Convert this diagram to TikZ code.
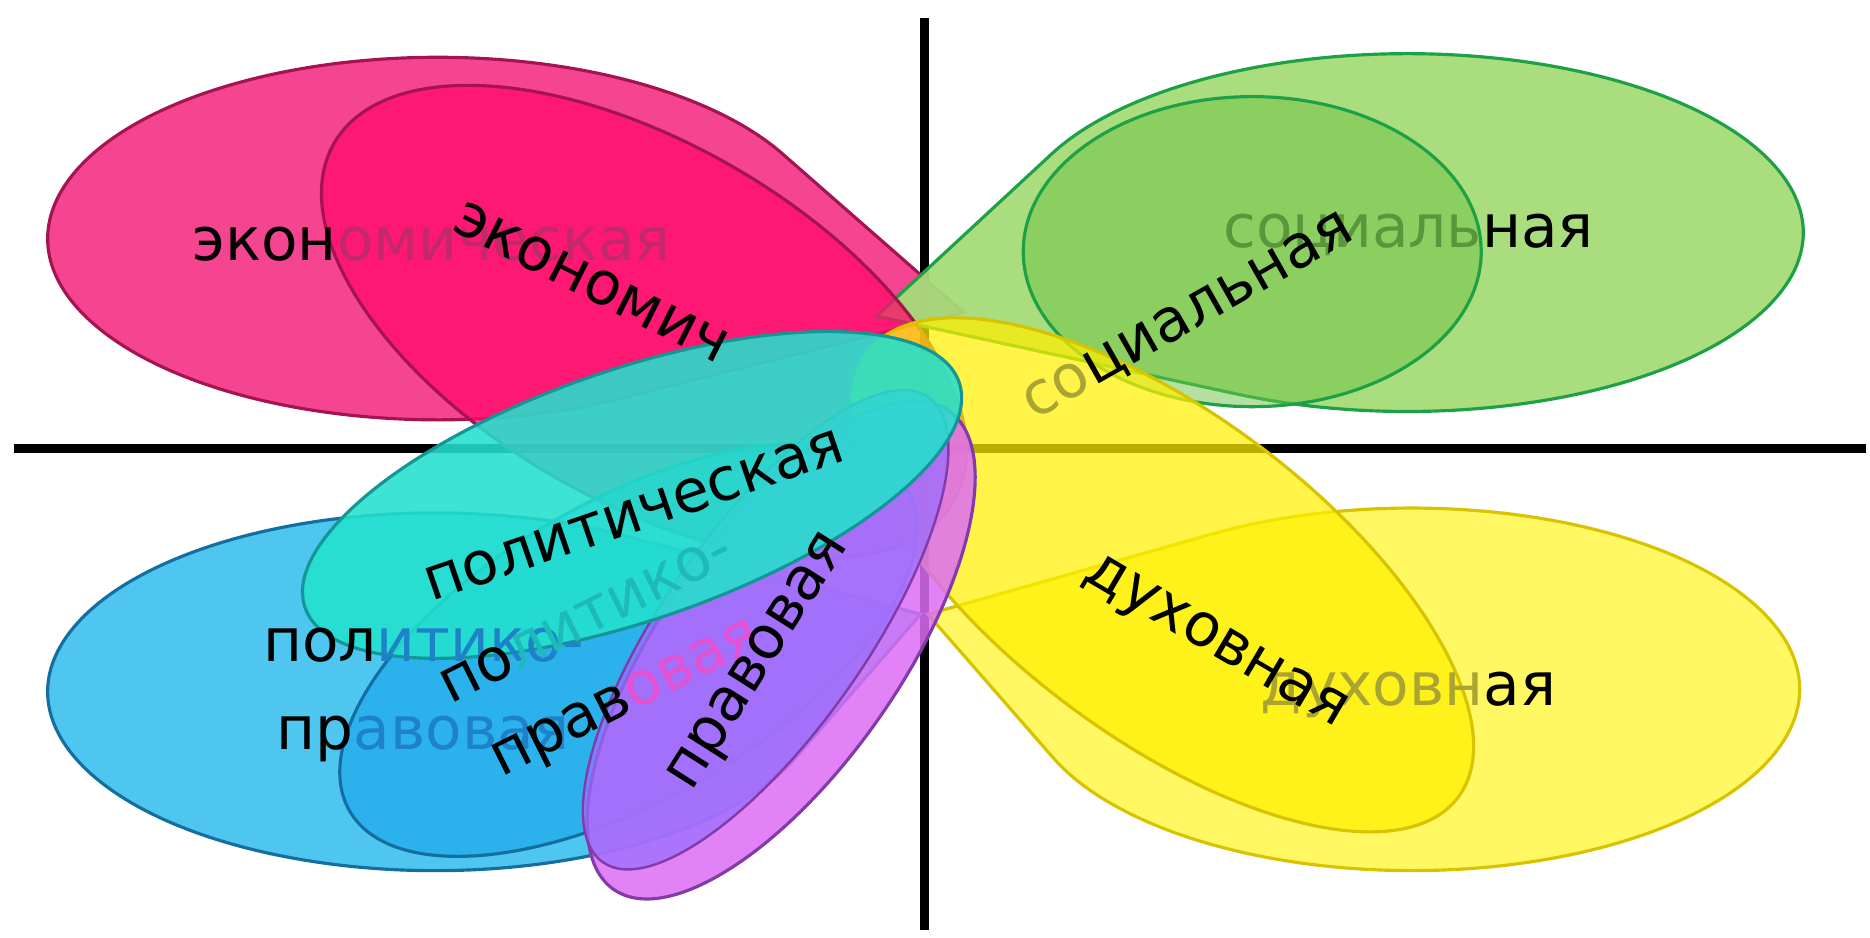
\documentclass[tikz,border=0pt]{standalone}
\usepackage{fontspec}
\setmainfont{DejaVu Sans}
\definecolor{pinkbig}{RGB}{245,60,140}
\definecolor{pinkpet}{RGB}{255,10,105}
\definecolor{pinkline}{RGB}{165,20,80}
\definecolor{greenbig}{RGB}{165,220,120}
\definecolor{greenpet}{RGB}{110,195,70}
\definecolor{greenline}{RGB}{30,160,70}
\definecolor{yellowbig}{RGB}{255,248,90}
\definecolor{yellowpet}{RGB}{255,240,0}
\definecolor{yellowline}{RGB}{215,195,0}
\definecolor{bluebig}{RGB}{70,195,240}
\definecolor{bluepet}{RGB}{20,165,235}
\definecolor{blueline}{RGB}{20,110,160}
\definecolor{cyanpet}{RGB}{35,225,205}
\definecolor{cyanline}{RGB}{20,150,150}
\definecolor{magpet}{RGB}{220,110,245}
\definecolor{violetpet}{RGB}{150,110,255}
\definecolor{purpleline}{RGB}{130,60,170}
\definecolor{fpink}{RGB}{195,40,105}
\definecolor{fgreen}{RGB}{90,150,60}
\definecolor{fyellow}{RGB}{170,165,50}
\definecolor{fblue}{RGB}{30,130,200}
\definecolor{fcyan}{RGB}{30,185,185}
\definecolor{fmag}{RGB}{230,80,210}
% teardrop: centre x, centre y, x radius, y radius, rotation, tip x, tip y, style
\newcommand{\mydrop}[8]{%
  \pgfmathsetmacro{\tdDX}{#6-#1}%
  \pgfmathsetmacro{\tdDY}{#7-#2}%
  \pgfmathsetmacro{\tdLX}{\tdDX*cos(#5)-\tdDY*sin(#5)}%
  \pgfmathsetmacro{\tdLY}{\tdDX*sin(#5)+\tdDY*cos(#5)}%
  \pgfmathsetmacro{\tdUX}{\tdLX/#3}%
  \pgfmathsetmacro{\tdUY}{\tdLY/#4}%
  \pgfmathsetmacro{\tdTH}{atan2(\tdUY,\tdUX)}%
  \pgfmathsetmacro{\tdD}{acos(1/sqrt(\tdUX*\tdUX+\tdUY*\tdUY))}%
  \pgfmathsetmacro{\tdPA}{\tdTH+\tdD}%
  \pgfmathsetmacro{\tdPB}{\tdTH-\tdD+360}%
  \begin{scope}[shift={(#1,#2)},rotate=#5]
    \path[#8] (\tdLX,\tdLY) -- ({#3*cos(\tdPA)},{#4*sin(\tdPA)})
      arc[start angle=\tdPA,end angle=\tdPB,x radius=#3,y radius=#4] -- cycle;
  \end{scope}}
\begin{document}
\begin{tikzpicture}[x=0.011926cm,y=-0.011926cm,
  axisline/.style={line width=2.7pt,draw=black},
  pinkbigS/.style={fill=pinkbig,fill opacity=0.95,draw=pinkline,line width=0.9pt},
  greenbigS/.style={fill=greenbig,fill opacity=0.95,draw=greenline,line width=0.9pt},
  yellowbigS/.style={fill=yellowbig,fill opacity=0.95,draw=yellowline,line width=0.9pt},
  bluebigS/.style={fill=bluebig,fill opacity=0.95,draw=blueline,line width=0.9pt},
  pinkpetS/.style={fill=pinkpet,fill opacity=0.75,draw=pinkline,line width=0.9pt},
  greenpetS/.style={fill=greenpet,fill opacity=0.5,draw=greenline,line width=0.9pt},
  yellowpetS/.style={fill=yellowpet,fill opacity=0.72,draw=yellowline,line width=0.9pt},
  bluepetS/.style={fill=bluepet,fill opacity=0.6,draw=blueline,line width=0.9pt},
  magpetS/.style={fill=magpet,fill opacity=0.85,draw=purpleline,line width=0.9pt},
  violetpetS/.style={fill=violetpet,fill opacity=0.7,draw=purpleline,line width=0.7pt},
  cyanpetS/.style={fill=cyanpet,fill opacity=0.88,draw=cyanline,line width=0.9pt},
  lbl/.style={font=\fontsize{17}{25}\selectfont,inner sep=0pt,align=center,text=black},
]
\useasboundingbox (0,0) rectangle (1568,786);
\fill[white] (0,0) rectangle (1568,786);

% axes
\coordinate (vtop) at (775,15);
\coordinate (vbot) at (775,780);
\coordinate (hleft) at (12,376);
\coordinate (hright) at (1565,376);
\draw[axisline] (vtop) -- (vbot);
\draw[axisline] (hleft) -- (hright);

% big teardrops
\mydrop{367}{200}{327}{152}{0}{808}{262}{pinkbigS}
\mydrop{1180}{195}{332}{150}{0}{735}{265}{greenbigS}
\mydrop{1184}{578}{325}{152}{0}{778}{515}{yellowbigS}
\mydrop{365}{580}{325}{150}{0}{772}{515}{bluebigS}

% rotating petals
\path[pinkpetS,rotate around={-30:(540,270)}] (540,270) ellipse [x radius=300,y radius=150];
\path[greenpetS] (1050,211) ellipse [x radius=192,y radius=130];
\path[yellowpetS,rotate around={-37:(975,482)}] (975,482) ellipse [x radius=310,y radius=135];
\path[bluepetS,rotate around={30:(527,545)}] (527,545) ellipse [x radius=270,y radius=125];
\path[magpetS,rotate around={55:(655,545)}] (655,545) ellipse [x radius=245,y radius=100];
\path[violetpetS,rotate around={55:(642,528)}] (642,528) ellipse [x radius=238,y radius=85];
\path[cyanpetS,rotate around={19:(530,415)}] (530,415) ellipse [x radius=290,y radius=105];

% labels
\node[lbl] (econH) at (362,205) {экон\textcolor{fpink}{омическая}};
\node[lbl,rotate=-26.7] (econR) at (496,237) {экономич};
\node[lbl] (socH) at (1181,197) {\textcolor{fgreen}{социаль}ная};
\node[lbl,rotate=29.5] (socR) at (997,267) {\textcolor{fyellow}{со}циальная};
\node[lbl] (spirH) at (1181,583) {\textcolor{fyellow}{духовн}ая};
\node[lbl,rotate=-30.5] (spirR) at (1018,540) {духовная};
\node[lbl] (polH) at (355,583) {пол\textcolor{fblue}{итико-}\\пр\textcolor{fblue}{авовая}};
\node[lbl,rotate=26.6] (polR) at (510,556) {по\textcolor{fcyan}{литико-}\\прав\textcolor{fmag}{овая}};
\node[lbl,rotate=18.9] (polit) at (532,432) {политическая};
\node[lbl,rotate=57.6] (prav) at (638,556) {правовая};
\end{tikzpicture}
\end{document}
